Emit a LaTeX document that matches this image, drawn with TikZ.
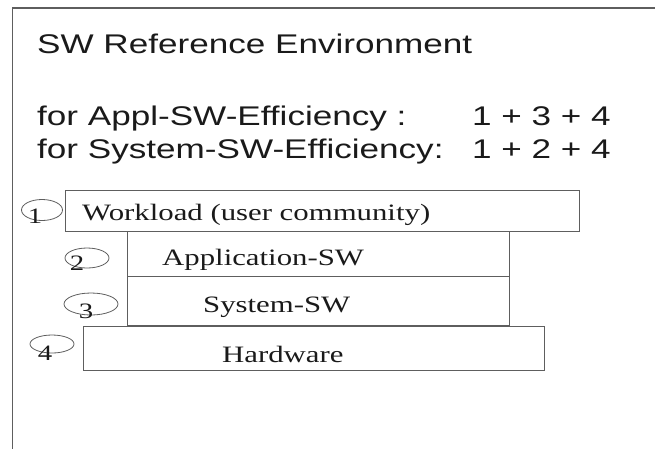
\documentclass[tikz,border=0pt]{standalone}
\usepackage{fontspec}
\usetikzlibrary{shapes.geometric}
\newfontfamily\headfont[FakeStretch=1.3]{Liberation Sans}
\newfontfamily\layerfont[FakeStretch=1.31]{Liberation Serif}
\definecolor{linegray}{HTML}{5E5E5E}
\definecolor{inkblack}{HTML}{1A1A1A}
\newcommand*\headsize{\fontsize{27}{32}\selectfont}
\newcommand*\layersize{\fontsize{23.5}{28}\selectfont}
\newcommand*\digitsize{\fontsize{22}{26}\selectfont}
\tikzset{
    headline/.style={
        anchor=base west,
        inner sep=0pt,
        text=inkblack,
        font=\headfont\headsize
    },
    layer/.style 2 args={
        draw=linegray,
        line width=1.2pt,
        fill=white,
        rectangle,
        anchor=north west,
        inner sep=0pt,
        minimum width=#1,
        minimum height=#2
    },
    layertext/.style={
        anchor=base west,
        inner sep=0pt,
        text=inkblack,
        font=\layerfont\layersize
    },
    numring/.style 2 args={
        draw=linegray,
        line width=0.8pt,
        ellipse,
        inner sep=0pt,
        minimum width=#1,
        minimum height=#2
    },
    numtext/.style={
        anchor=base,
        inner sep=0pt,
        text=inkblack,
        font=\layerfont\digitsize
    }
}

\begin{document}
\begin{tikzpicture}[y=-1pt,x=1pt]
    \useasboundingbox (0,0) rectangle (655,448);

    % The outer frame runs off the right and bottom edge.
    \draw[linegray, line width=1.2pt] (12.5,470) -- (12.5,8) -- (680,8);

    % Heading and the two sums.
    \node[headline] (title) at (37,53) {SW Reference Environment};
    \node[headline] (applfor) at (37,125) {for Appl-SW-Efficiency :};
    \node[headline] (applsum) at (472,125) {1 + 3 + 4};
    \node[headline] (sysfor) at (37,158) {for System-SW-Efficiency:};
    \node[headline] (syssum) at (472,158) {1 + 2 + 4};

    % Now the layers, top to bottom. The y coordinate is the upper edge.
    \node[layer={514pt}{41pt}] (workload) at (65,190) {};
    \node[layer={382pt}{45pt}] (appl) at (127,231) {};
    \node[layer={382pt}{49pt}] (system) at (127,276) {};
    \node[layer={461pt}{44pt}] (hardware) at (83,326) {};

    \node[layertext] (workloadtext) at (82,220) {Workload (user community)};
    \node[layertext] (appltext) at (162,265) {Application-SW};
    \node[layertext] (systemtext) at (203,312) {System-SW};
    \node[layertext] (hardwaretext) at (222,362) {Hardware};

    % Numbered rings left of each layer.
    \foreach \num/\cx/\cy/\rw/\rh/\dx/\dy in {1/42/210/41/21/35/223,2/87/258/44/20/77/270,3/91/304/54/22/86/318,4/52/344/44/18/45/360}{
        \node[numring={\rw pt}{\rh pt}] (ring\num) at (\cx,\cy) {};
        \node[numtext] (digit\num) at (\dx,\dy) {\num};
    }
\end{tikzpicture}
\end{document}
